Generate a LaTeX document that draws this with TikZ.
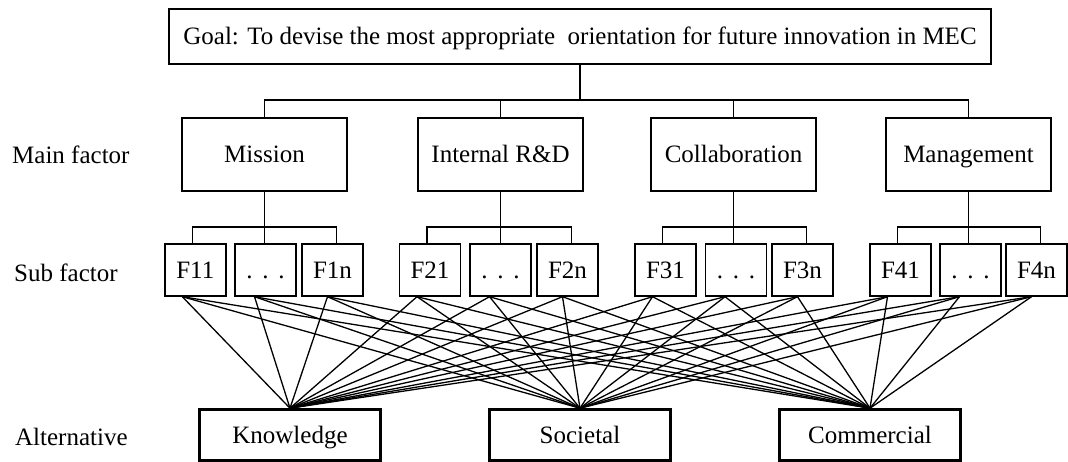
\documentclass[tikz,border=0pt]{standalone}
\usepackage{fontspec}
\setmainfont{Liberation Serif}
\begin{document}
\begin{tikzpicture}[x=1pt,y=-1pt,
  font=\fontsize{25}{30}\selectfont,
  every node/.style={text height=20pt, text depth=3pt},
  goalbox/.style={draw, line width=2.6pt, minimum width=822pt, minimum height=55pt, inner sep=0pt},
  mainbox/.style={draw, line width=2.6pt, minimum width=165pt, minimum height=73pt, inner sep=0pt},
  subbox/.style={draw, line width=1.4pt, minimum width=61pt, minimum height=52pt, inner sep=0pt},
  altbox/.style={draw, line width=2.6pt, minimum width=181pt, minimum height=51pt, inner sep=0pt},
  rowlabel/.style={anchor=west, inner sep=0pt},
  tree/.style={line width=1.2pt},
  cross/.style={line width=1.3pt}]
\useasboundingbox (0,0) rectangle (1068,462);
\newcommand{\mydots}{.\hspace{0.39em}.\hspace{0.39em}.}

% goal
\node[goalbox] (goal) at (580,36.5) {Goal: To devise the most appropriate~ orientation for future innovation in MEC};

% row labels
\node[rowlabel] (lmain) at (12,155) {Main factor};
\node[rowlabel] (lsub) at (14,273.5) {Sub factor};
\node[rowlabel] (lalt) at (15,436.5) {Alternative};

% main factors
\node[mainbox] (m1) at (264.5,154.5) {Mission};
\node[mainbox] (m2) at (500.5,154.5) {Internal R\&D};
\node[mainbox] (m3) at (733.5,154.5) {Collaboration};
\node[mainbox] (m4) at (968.5,154.5) {Management};

% sub factors
\node[subbox] (F11) at (195.3,270) {F11};
\node[subbox] (F1d) at (265.5,270) {\mydots};
\node[subbox] (F1n) at (332.5,270) {F1n};
\node[subbox] (F21) at (430,270) {F21};
\node[subbox] (F2d) at (500.5,270) {\mydots};
\node[subbox] (F2n) at (567.5,270) {F2n};
\node[subbox] (F31) at (665.5,270) {F31};
\node[subbox] (F3d) at (736,270) {\mydots};
\node[subbox] (F3n) at (802.5,270) {F3n};
\node[subbox] (F41) at (900.5,270) {F41};
\node[subbox] (F4d) at (970.5,270) {\mydots};
\node[subbox] (F4n) at (1036.5,270) {F4n};

% alternatives
\node[altbox] (know) at (290,435) {Knowledge};
\node[altbox] (soc) at (580,435) {Societal};
\node[altbox] (com) at (870,435) {Commercial};

% goal to main factors
\coordinate (busA) at (0,100);
\draw[tree] (goal.south) -- (goal.south |- busA);
\draw[tree] (m1.north) -- (m1.north |- busA) -- (m4.north |- busA) -- (m4.north);
\draw[tree] (m2.north) -- (m2.north |- busA);
\draw[tree] (m3.north) -- (m3.north |- busA);

% main factors to sub factors
\coordinate (busB) at (0,227);
\foreach \g in {1,2,3,4}{
  \draw[tree] (m\g.south) -- (m\g.south |- F\g d.north);
  \draw[tree] ([xshift=-3pt]F\g1.north) -- ([xshift=-3pt]F\g1.north |- busB)
     -- ([xshift=4pt]F\g n.north |- busB) -- ([xshift=4pt]F\g n.north);
}

% sub factors to alternatives
\foreach \g in {1,2,3,4}{
  \foreach \s/\o in {1/-13, d/-11, n/-5}{
    \foreach \a in {know,soc,com}{
      \draw[cross] ([xshift=\o pt]F\g\s.south) -- (\a.north);
    }
  }
}
\end{tikzpicture}
\end{document}
